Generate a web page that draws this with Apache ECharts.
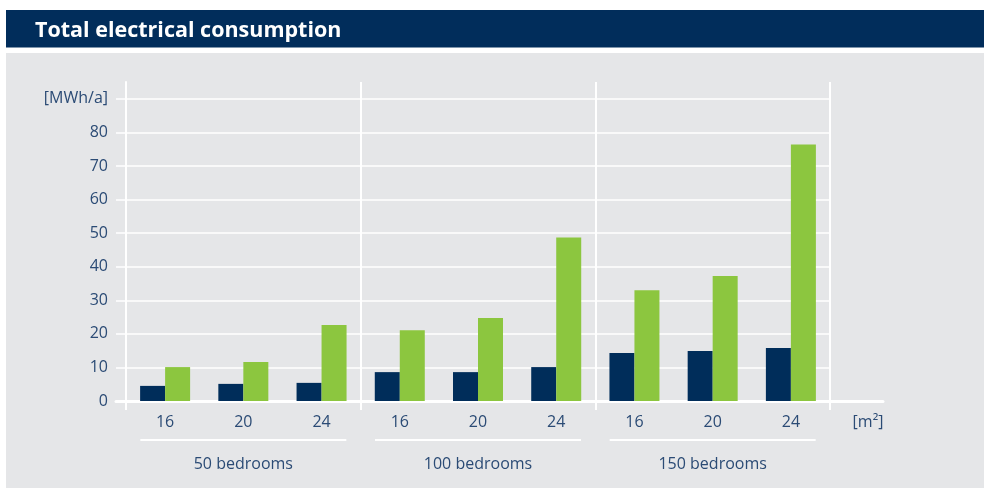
<!DOCTYPE html>
<html>
<head>
<meta charset="utf-8">
<script src="https://cdn.jsdelivr.net/npm/echarts@6/dist/echarts.min.js"></script>
<style>
html,body{margin:0;padding:0;background:#fff;}
#chart{width:984px;height:489px;}
</style>
</head>
<body>
<div id="chart"></div>
<script>
// ---- data ----
const titleText = 'Total electrical consumption';
const categories = ['16', '20', '24', '16', '20', '24', '16', '20', '24'];
const groupLabels = ['50 bedrooms', '100 bedrooms', '150 bedrooms'];
const seriesNavy = [4.5, 5.1, 5.4, 8.6, 8.6, 10.1, 14.3, 14.9, 15.8];
const seriesGreen = [10.1, 11.6, 22.6, 21.1, 24.7, 48.7, 33.0, 37.2, 76.4];
const yTickValues = [0, 10, 20, 30, 40, 50, 60, 70, 80, 90];
const yUnitLabel = '[MWh/a]';
const xUnitLabel = '[m²]';

// ---- styles ----
const FONT = '"Open Sans", sans-serif';
const TXT = '#2b4b75';
const NAVY = '#002d5a';
const GREEN = '#8cc63f';

const chart = echarts.init(document.getElementById('chart'), null, {renderer: 'canvas'});
chart.setOption({
  animation: false,
  backgroundColor: '#ffffff',
  graphic: [
    {type: 'rect', z: -10, shape: {x: 6, y: 10, width: 978, height: 37.5}, style: {fill: '#012d5b'}},
    {type: 'rect', z: -10, shape: {x: 6, y: 53, width: 978, height: 435}, style: {fill: '#e5e6e8'}}
  ],
  title: {
    text: titleText,
    left: 35, top: 20, padding: 0,
    textStyle: {color: '#ffffff', fontFamily: FONT, fontWeight: 'bold', fontSize: 21.5, lineHeight: 22}
  },
  grid: [
    {left: 126, right: 154, top: 82, bottom: 88, containLabel: false},
    {left: 116, right: 101, top: 82, bottom: 88, containLabel: false}
  ],
  xAxis: [
    {
      type: 'category', gridIndex: 0, data: categories, position: 'bottom',
      axisLine: {show: false},
      axisTick: {show: false},
      splitLine: {show: false},
      axisLabel: {interval: 0, margin: 13, color: TXT, fontFamily: FONT, fontSize: 16}
    },
    {
      type: 'category', gridIndex: 0, data: groupLabels, position: 'bottom',
      axisLine: {show: false},
      axisTick: {show: true, interval: 0, length: 9, lineStyle: {color: '#ffffff', width: 2}},
      splitLine: {show: true, interval: 0, lineStyle: {color: '#ffffff', width: 2}},
      axisLabel: {
        interval: 0, margin: 38,
        formatter: function (v) { return '{l|}\n{t|' + v + '}'; },
        rich: {
          l: {width: 206, height: 2, lineHeight: 2, fontSize: 1, backgroundColor: '#ffffff'},
          t: {fontSize: 16, lineHeight: 46, color: TXT, fontFamily: FONT}
        }
      }
    },
    {
      type: 'value', gridIndex: 1, min: 0, max: 1,
      axisLine: {show: true, lineStyle: {color: '#ffffff', width: 3}},
      axisTick: {show: false}, axisLabel: {show: false}, splitLine: {show: false},
      name: xUnitLabel, nameLocation: 'end', nameGap: -15,
      nameTextStyle: {color: TXT, fontFamily: FONT, fontSize: 16, align: 'center', verticalAlign: 'top', lineHeight: 42}
    }
  ],
  yAxis: [
    {
      type: 'value', gridIndex: 0, min: 0, max: 95, interval: 10,
      axisLine: {show: true, lineStyle: {color: '#ffffff', width: 2}},
      axisTick: {show: true, length: 10, customValues: yTickValues, lineStyle: {color: '#ffffff', width: 1.5}},
      splitLine: {show: true, lineStyle: {color: '#ffffff', width: 1.5}},
      axisLabel: {
        customValues: yTickValues, margin: 18,
        color: TXT, fontFamily: FONT, fontSize: 16,
        formatter: function (v) { return v === 90 ? yUnitLabel : String(v); }
      }
    },
    {type: 'value', gridIndex: 1, show: false}
  ],
  series: [
    {type: 'bar', xAxisIndex: 0, yAxisIndex: 0, data: seriesNavy, barWidth: 25, barGap: '0%', itemStyle: {color: NAVY}},
    {type: 'bar', xAxisIndex: 0, yAxisIndex: 0, data: seriesGreen, barWidth: 25, barGap: '0%', itemStyle: {color: GREEN}}
  ]
});
</script>
</body>
</html>
